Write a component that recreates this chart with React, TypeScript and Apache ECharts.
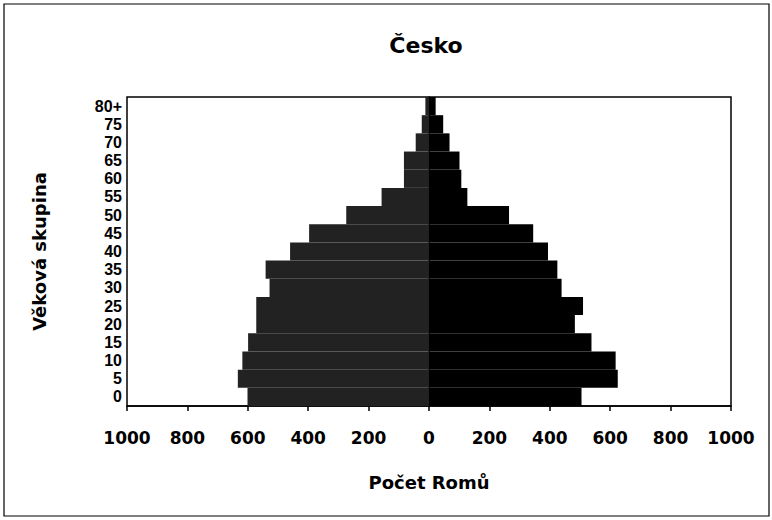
import React, { useEffect, useRef } from "react";
import * as echarts from "echarts";

const ageGroups = ["0", "5", "10", "15", "20", "25", "30", "35", "40", "45", "50", "55", "60", "65", "70", "75", "80+"];
const leftValues = [601, 633, 618, 599, 572, 572, 528, 541, 460, 397, 274, 157, 83, 83, 44, 24, 12];
const rightValues = [505, 625, 618, 538, 483, 510, 439, 425, 394, 345, 265, 127, 107, 101, 68, 47, 22];
const xTicks = { min: -1000, max: 1000, interval: 200 };

const FONT = "DejaVu Sans";

export default function App() {
  const ref = useRef<HTMLDivElement>(null);
  useEffect(() => {
    if (!ref.current) return;
    const chart = echarts.init(ref.current, null, { renderer: "svg" });
    chart.setOption({
      animation: false,
      backgroundColor: "#fff",
      title: {
        text: "Česko",
        left: 421,
        top: 29,
        textAlign: "center",
        textStyle: { fontFamily: FONT, fontWeight: "bold", fontSize: 22, color: "#000" },
      },
      graphic: [
        {
          type: "rect",
          shape: { x: 4, y: 4, width: 765, height: 512 },
          style: { fill: "none", stroke: "#000", lineWidth: 1.2 },
          silent: true,
        },
      ],
      grid: {
        left: 127,
        right: 41,
        top: 97,
        bottom: 114,
        show: true,
        borderColor: "#000",
        borderWidth: 1.5,
        backgroundColor: "transparent",
      },
      xAxis: {
        type: "value",
        min: xTicks.min,
        max: xTicks.max,
        interval: xTicks.interval,
        name: "Počet Romů",
        nameLocation: "middle",
        nameGap: 67,
        nameTextStyle: { fontFamily: FONT, fontWeight: "bold", fontSize: 18, color: "#000" },
        axisLine: { show: true, lineStyle: { color: "#000", width: 1.5 } },
        axisTick: { show: true, inside: false, length: 5, lineStyle: { color: "#000", width: 1.5 } },
        splitLine: { show: false },
        axisLabel: {
          fontFamily: FONT,
          fontWeight: "bold",
          fontSize: 17,
          color: "#000",
          margin: 23,
          formatter: (v: number) => String(Math.abs(v)),
        },
      },
      yAxis: {
        type: "category",
        data: ageGroups,
        name: "Věková skupina",
        nameLocation: "middle",
        nameGap: 79,
        nameRotate: 90,
        nameTextStyle: { fontFamily: FONT, fontWeight: "bold", fontSize: 18, color: "#000" },
        axisLine: { show: true, lineStyle: { color: "#000", width: 1.5 } },
        axisTick: { show: false },
        axisLabel: {
          fontFamily: "Liberation Sans",
          fontWeight: "bold",
          fontSize: 16,
          color: "#000",
          margin: 5,
          interval: 0,
          lineHeight: 16,
        },
      },
      series: [
        {
          type: "bar",
          name: "left",
          stack: "pyr",
          data: leftValues.map((v) => -v),
          barCategoryGap: "0%",
          barWidth: "100%",
          itemStyle: { color: "#222" },
        },
        {
          type: "bar",
          name: "right",
          stack: "pyr",
          data: rightValues,
          barCategoryGap: "0%",
          barWidth: "100%",
          itemStyle: { color: "#000" },
        },
      ],
    });
    return () => chart.dispose();
  }, []);
  return <div ref={ref} style={{ width: 772, height: 520, position: "absolute", left: 0, top: 0 }} />;
}
